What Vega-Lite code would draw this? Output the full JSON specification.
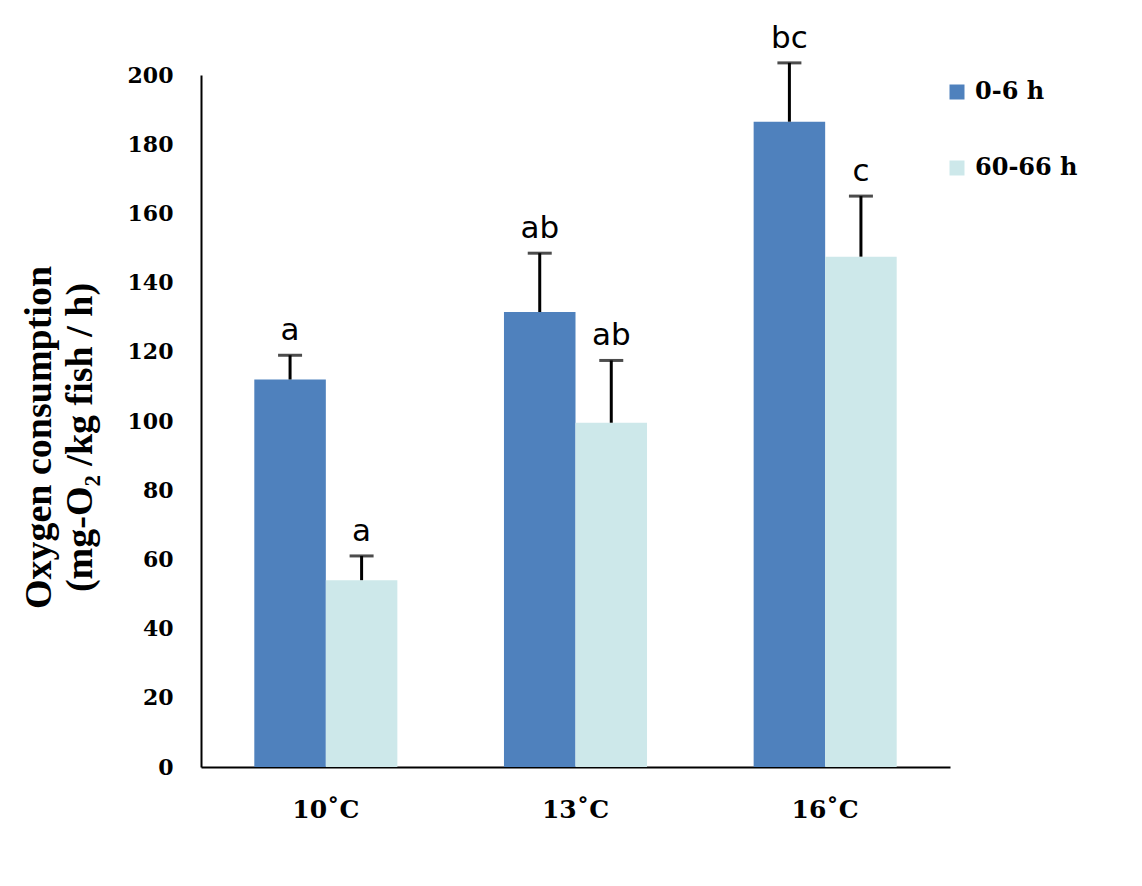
{
  "$schema": "https://vega.github.io/schema/vega-lite/v6.json",
  "width": 749,
  "height": 692,
  "autosize": {"type": "none"},
  "padding": {"left": 201, "top": 75, "right": 192, "bottom": 119},
  "background": "white",
  "config": {"view": {"stroke": null}},
  "data": {
    "values": [
      {"temp": "10˚C", "period": "0-6 h", "mean": 112, "upper": 119, "label": "a"},
      {"temp": "10˚C", "period": "60-66 h", "mean": 54, "upper": 61, "label": "a"},
      {"temp": "13˚C", "period": "0-6 h", "mean": 131.5, "upper": 148.5, "label": "ab"},
      {"temp": "13˚C", "period": "60-66 h", "mean": 99.5, "upper": 117.5, "label": "ab"},
      {"temp": "16˚C", "period": "0-6 h", "mean": 186.5, "upper": 203.5, "label": "bc"},
      {"temp": "16˚C", "period": "60-66 h", "mean": 147.5, "upper": 165, "label": "c"}
    ]
  },
  "encoding": {
    "x": {
      "field": "temp", "type": "nominal",
      "scale": {"paddingInner": 0.427, "paddingOuter": 0.2135},
      "axis": {
        "title": null, "labelAngle": 0, "ticks": false, "domainColor": "black", "domainWidth": 2,
        "labelFont": "DejaVu Serif", "labelFontWeight": "bold", "labelFontSize": 25,
        "labelColor": "black", "labelPadding": 30
      }
    },
    "xOffset": {"field": "period", "type": "nominal", "scale": {"paddingInner": 0, "paddingOuter": 0}}
  },
  "layer": [
    {
      "mark": {"type": "bar"},
      "encoding": {
        "y": {
          "field": "mean", "type": "quantitative",
          "scale": {"domain": [0, 200], "nice": false},
          "axis": {
            "values": [0, 20, 40, 60, 80, 100, 120, 140, 160, 180, 200],
            "grid": false, "ticks": false, "domainColor": "black", "domainWidth": 2,
            "labelFont": "DejaVu Serif", "labelFontWeight": "bold", "labelFontSize": 22,
            "labelColor": "black", "labelPadding": 28,
            "title": ["Oxygen consumption", "(mg-O₂ /kg fish / h)"],
            "titleFont": "Liberation Serif", "titleFontWeight": "bold", "titleFontSize": 38,
            "titleColor": "black", "titlePadding": 28, "titleLineHeight": 41, "titleY": 362
          }
        },
        "color": {
          "field": "period", "type": "nominal",
          "scale": {"domain": ["0-6 h", "60-66 h"], "range": ["#4f81bd", "#cde8ea"]},
          "legend": {
            "title": null, "orient": "none", "legendX": 744, "legendY": 5,
            "symbolType": "square", "symbolSize": 225, "symbolStrokeWidth": 0,
            "labelFont": "DejaVu Serif", "labelFontWeight": "bold", "labelFontSize": 24,
            "labelColor": "black", "rowPadding": 52, "labelOffset": 6
          }
        }
      }
    },
    {
      "mark": {"type": "rule", "color": "black", "strokeWidth": 3},
      "encoding": {
        "y": {"field": "mean", "type": "quantitative"},
        "y2": {"field": "upper"}
      }
    },
    {
      "mark": {"type": "tick", "color": "black", "thickness": 3, "size": 24, "orient": "horizontal"},
      "encoding": {
        "y": {"field": "upper", "type": "quantitative"}
      }
    },
    {
      "mark": {"type": "text", "font": "DejaVu Sans", "fontSize": 31, "baseline": "alphabetic", "dy": -15, "color": "black"},
      "encoding": {
        "y": {"field": "upper", "type": "quantitative"},
        "text": {"field": "label"}
      }
    }
  ]
}
